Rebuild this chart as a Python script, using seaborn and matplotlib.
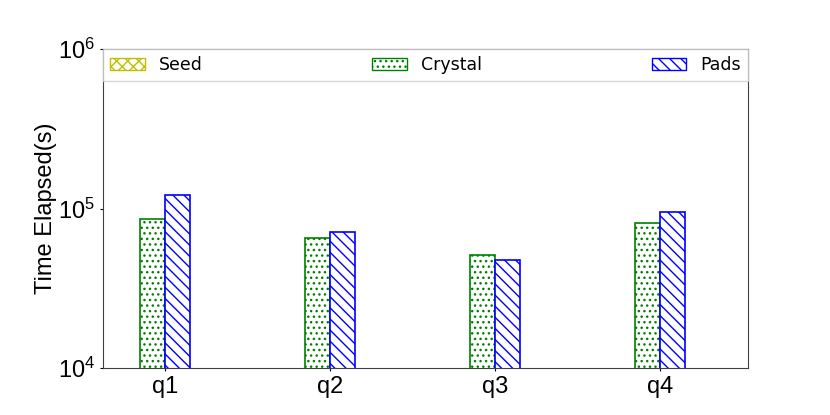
import numpy as np
import pandas as pd
import seaborn as sns
import matplotlib.pyplot as plt
from matplotlib.patches import Patch

# values (log scale)
queries = ["q1", "q2", "q3", "q4"]
seed = [np.nan, np.nan, np.nan, np.nan]
crystal = [85500, 65600, 51100, 81500]
pads = [121000, 71200, 47300, 95100]

series = ["Seed", "Crystal", "Pads"]
colors = {"Seed": "#bfbf00", "Crystal": "green", "Pads": "blue", "_": "black"}
hatches = {"Seed": "xxx", "Crystal": "...", "Pads": "\\\\\\"}

df = pd.DataFrame({
    "query": queries * 4,
    "system": ["Seed"] * 4 + ["Crystal"] * 4 + ["Pads"] * 4 + ["_"] * 4,
    "time": seed + crystal + pads + [np.nan] * 4,
})

sns.set_style("ticks", {"text.color": "black", "xtick.color": "black",
                        "ytick.color": "black", "axes.labelcolor": "black",
                        "axes.edgecolor": "0.25"})
plt.rcParams["font.family"] = ["Liberation Sans", "DejaVu Sans"]
plt.rcParams["hatch.linewidth"] = 1.0

fig, ax = plt.subplots(figsize=(8.3, 4.15), dpi=100)
fig.subplots_adjust(left=0.124, right=0.901, top=0.882, bottom=0.113)

sns.barplot(data=df, x="query", y="time", hue="system",
            hue_order=["Seed", "Crystal", "Pads", "_"], palette=colors,
            saturation=1, width=0.6, errorbar=None, legend=False, ax=ax)

# white bars with coloured edges and hatching
lookup = {tuple(np.round(plt.matplotlib.colors.to_rgba(c), 3)): k for k, c in colors.items()}
for bar in ax.patches:
    key = lookup.get(tuple(np.round(bar.get_facecolor(), 3)))
    if key is None:
        continue
    bar.set_edgecolor(colors[key])
    bar.set_facecolor("white")
    bar.set_hatch(hatches.get(key, ""))
    bar.set_linewidth(1.2)

ax.set_yscale("log")
ax.set_ylim(1e4, 1e6)
ax.set_xlim(-0.376, 3.533)
ax.minorticks_off()
ax.set_xlabel("")
ax.set_ylabel("Time Elapsed(s)", fontsize=17, labelpad=0.5)
ax.tick_params(axis="x", labelsize=17, length=2.5, pad=3)
ax.tick_params(axis="y", labelsize=17, length=2.5, pad=3)

handles = [Patch(facecolor="white", edgecolor=colors[s], hatch=hatches[s], label=s) for s in series]
ax.legend(handles=handles, loc="upper center", bbox_to_anchor=(0, 0, 1, 1), mode="expand",
          ncol=3, borderaxespad=0, fancybox=False, edgecolor="0.8",
          prop={"family": "DejaVu Sans", "size": 12.5})

fig.savefig("out.png", dpi=100)
